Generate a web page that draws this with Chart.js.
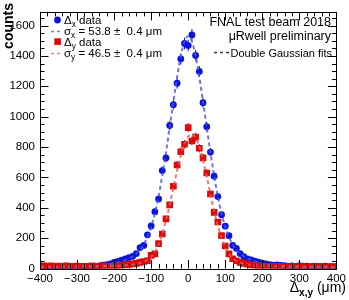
<!DOCTYPE html>
<html>
<head>
<meta charset="UTF-8">
<title>uRwell residuals</title>
<script src="https://cdn.jsdelivr.net/npm/chart.js@4.4.1/dist/chart.umd.min.js"></script>
<style>
  html, body { margin: 0; padding: 0; background: #fff; }
</style>
</head>
<body>
<canvas id="myChart" width="349" height="300"></canvas>
<script>
// bin centres (um), 10 um bins
var binCenters = [
  -400, -390, -380, -370, -360, -350, -340, -330, -320, -310,
  -300, -290, -280, -270, -260, -250, -240, -230, -220, -210,
  -200, -190, -180, -170, -160, -150, -140, -130, -120, -110,
  -100,  -90,  -80,  -70,  -60,  -50,  -40,  -30,  -20,  -10,
     0,   10,   20,   30,   40,   50,   60,   70,   80,   90,
   100,  110,  120,  130,  140,  150,  160,  170,  180,  190,
   200,  210,  220,  230,  240,  250,  260,  270,  280,  290,
   300,  310,  320,  330,  340,  350,  360,  370,  380,  390,
   400
];

// delta x counts
var dxCounts = [
  4, 3, 2, 4, 3, 5, 4, 6, 5, 7,
  6, 8, 9, 8, 11, 13, 17, 22, 26, 31,
  40, 47, 55, 64, 72, 80, 98, 138, 152, 222,
  280, 374, 458, 645, 728, 942, 1079, 1220, 1380, 1482,
  1468, 1538, 1403, 1298, 1092, 934, 767, 608, 474, 354,
  279, 216, 152, 132, 98, 78, 64, 56, 48, 42,
  36, 30, 26, 22, 24, 20, 18, 16, 17, 14,
  18, 15, 16, 13, 15, 14, 12, 15, 13, 12,
  14
];

// delta y counts
var dyCounts = [
  16, 18, 14, 17, 15, 16, 13, 17, 15, 14,
  16, 13, 15, 14, 17, 15, 13, 18, 16, 14,
  17, 19, 22, 24, 27, 30, 34, 40, 46, 51,
  86, 96, 164, 227, 327, 419, 542, 682, 769, 818,
  928, 840, 865, 792, 729, 629, 491, 370, 306, 217,
  148, 96, 64, 51, 40, 34, 28, 24, 20, 18,
  16, 15, 14, 12, 14, 11, 13, 12, 10, 12,
  11, 13, 10, 12, 11, 9, 12, 10, 11, 9,
  10
];

// double gaussian fit curves
var dxFit = [
  3, 3, 3, 4, 4, 4, 5, 5, 6, 6,
  7, 8, 9, 10, 12, 14, 16, 19, 23, 28,
  33, 40, 47, 56, 67, 80, 98, 122, 158, 208,
  275, 362, 475, 612, 765, 930, 1098, 1262, 1400, 1495,
  1530, 1495, 1400, 1262, 1098, 930, 765, 612, 475, 362,
  275, 208, 158, 122, 98, 80, 67, 56, 47, 40,
  33, 28, 23, 19, 16, 14, 12, 10, 9, 8,
  7, 6, 6, 5, 5, 4, 4, 4, 3, 3,
  3
];

var dyFit = [
  11, 11, 11, 12, 12, 12, 12, 13, 13, 13,
  13, 14, 14, 14, 14, 15, 15, 16, 16, 17,
  17, 18, 19, 21, 23, 26, 30, 36, 44, 57,
  77, 108, 158, 228, 318, 420, 532, 645, 745, 822,
  868, 885, 862, 805, 712, 605, 488, 378, 283, 205,
  143, 98, 68, 50, 39, 32, 27, 24, 21, 19,
  18, 17, 16, 16, 15, 15, 14, 14, 13, 13,
  13, 12, 12, 12, 12, 11, 11, 11, 11, 10,
  10
];

var xMin = -400, xMax = 400, yMin = 0, yMax = 1690;

var BLUE = '#0a14dc';
var RED = '#dc0a0a';
var BLUE_FIT = 'rgba(70, 85, 230, 0.8)';
var RED_FIT = 'rgba(225, 90, 90, 0.8)';
var FONT = '"Liberation Sans", Arial, Helvetica, sans-serif';

function pts(ys) {
  return binCenters.map(function (x, i) { return { x: x, y: ys[i] }; });
}

function fontFor(kind, size) {
  if (kind === 'sub') return (size * 0.72) + 'px ' + FONT;
  if (kind === 'subb') return 'bold ' + (size * 0.72) + 'px ' + FONT;
  if (kind === 'b') return 'bold ' + size + 'px ' + FONT;
  return size + 'px ' + FONT;
}

// draws text made of pieces, some of them subscripts
function richText(ctx, parts, x, y, size, align) {
  var widths = parts.map(function (p) {
    ctx.font = fontFor(p[1], size);
    return ctx.measureText(p[0]).width;
  });
  var total = widths.reduce(function (a, b) { return a + b; }, 0);
  var cx = align === 'right' ? x - total : x;
  ctx.textAlign = 'left';
  ctx.textBaseline = 'alphabetic';
  parts.forEach(function (p, i) {
    ctx.font = fontFor(p[1], size);
    var dy = p[1].indexOf('sub') === 0 ? size * 0.28 : 0;
    ctx.fillText(p[0], cx, y + dy);
    cx += widths[i];
  });
}

var errorBars = {
  id: 'errorBars',
  beforeDatasetDraw: function (chart, args) {
    var ds = chart.data.datasets[args.index];
    if (!ds.errorBars) return;
    var ctx = chart.ctx, ys = chart.scales.y;
    var area = chart.chartArea;
    ctx.save();
    ctx.beginPath();
    ctx.rect(area.left, area.top, area.right - area.left, area.bottom - area.top);
    ctx.clip();
    ctx.strokeStyle = ds.borderColor;
    ctx.lineWidth = 1;
    args.meta.data.forEach(function (el, i) {
      var v = ds.data[i].y;
      var e = Math.sqrt(v);
      ctx.beginPath();
      ctx.moveTo(el.x, ys.getPixelForValue(v - e));
      ctx.lineTo(el.x, ys.getPixelForValue(v + e));
      ctx.stroke();
    });
    ctx.restore();
  }
};

var decorations = {
  id: 'decorations',
  afterDraw: function (chart) {
    var ctx = chart.ctx, a = chart.chartArea;
    var xs = chart.scales.x, ys = chart.scales.y;
    ctx.save();
    ctx.strokeStyle = '#000';
    ctx.lineWidth = 1;
    ctx.strokeRect(Math.round(a.left) + 0.5, Math.round(a.top) + 0.5,
      Math.round(a.right - a.left), Math.round(a.bottom - a.top));

    // ticks pointing into the frame, on all four sides
    ctx.beginPath();
    var v, p, len;
    for (v = xMin; v <= xMax; v += 20) {
      p = Math.round(xs.getPixelForValue(v)) + 0.5;
      len = v % 100 === 0 ? 8.5 : 4.5;
      ctx.moveTo(p, a.bottom); ctx.lineTo(p, a.bottom - len);
      ctx.moveTo(p, a.top); ctx.lineTo(p, a.top + len);
    }
    for (v = yMin; v <= yMax; v += 50) {
      p = Math.round(ys.getPixelForValue(v)) + 0.5;
      len = v % 200 === 0 ? 8.5 : 4.5;
      ctx.moveTo(a.left, p); ctx.lineTo(a.left + len, p);
      ctx.moveTo(a.right, p); ctx.lineTo(a.right - len, p);
    }
    ctx.stroke();

    ctx.fillStyle = '#000';
    // axis titles
    richText(ctx, [['Δ', ''], ['x,y', 'subb'], [' (μm)', '']], 346, 292, 14, 'right');
    ctx.save();
    ctx.translate(13, 3);
    ctx.rotate(-Math.PI / 2);
    ctx.font = fontFor('b', 14);
    ctx.textAlign = 'right';
    ctx.textBaseline = 'alphabetic';
    ctx.fillText('counts', 0, 0);
    ctx.restore();

    // legend, top left
    ctx.fillStyle = BLUE;
    ctx.beginPath();
    ctx.arc(57.5, 20, 3.4, 0, Math.PI * 2);
    ctx.fill();
    ctx.fillStyle = RED;
    ctx.fillRect(54.3, 38.3, 6.6, 6.6);
    ctx.lineWidth = 1.6;
    ctx.setLineDash([3, 3]);
    ctx.strokeStyle = BLUE_FIT;
    ctx.beginPath(); ctx.moveTo(51, 31.5); ctx.lineTo(63, 31.5); ctx.stroke();
    ctx.strokeStyle = RED_FIT;
    ctx.beginPath(); ctx.moveTo(51, 53.5); ctx.lineTo(63, 53.5); ctx.stroke();
    ctx.strokeStyle = '#333';
    ctx.lineWidth = 1.3;
    ctx.beginPath(); ctx.moveTo(214, 52.5); ctx.lineTo(229, 52.5); ctx.stroke();
    ctx.setLineDash([]);

    ctx.fillStyle = '#000';
    richText(ctx, [['Δ', ''], ['x', 'sub'], [' data', '']], 64, 23.5, 11.5, 'left');
    richText(ctx, [['σ', ''], ['x', 'sub'], [' = 53.8 ±  0.4 μm', '']], 64, 34.5, 11.5, 'left');
    richText(ctx, [['Δ', ''], ['y', 'sub'], [' data', '']], 64, 46, 11.5, 'left');
    richText(ctx, [['σ', ''], ['y', 'sub'], [' = 46.5 ±  0.4 μm', '']], 64, 56.5, 11.5, 'left');

    // top right notes
    richText(ctx, [['FNAL test beam 2018', '']], 331, 26, 12.5, 'right');
    richText(ctx, [['μRwell preliminary', '']], 331, 40, 12.5, 'right');
    richText(ctx, [['Double Gaussian fits', '']], 332, 56.5, 11, 'right');
    ctx.restore();
  }
};

var tickFont = { family: FONT, size: 11.5 };

new Chart(document.getElementById('myChart'), {
  type: 'scatter',
  data: {
    datasets: [
      {
        label: 'dy fit', type: 'line', data: pts(dyFit),
        borderColor: RED_FIT, borderWidth: 2, borderDash: [4, 3],
        pointRadius: 0, cubicInterpolationMode: 'monotone', fill: false
      },
      {
        label: 'dx fit', type: 'line', data: pts(dxFit),
        borderColor: BLUE_FIT, borderWidth: 2, borderDash: [4, 3],
        pointRadius: 0, cubicInterpolationMode: 'monotone', fill: false
      },
      {
        label: 'dy data', data: pts(dyCounts), errorBars: true,
        pointStyle: 'rect', pointRadius: 4.7, borderWidth: 0,
        backgroundColor: RED, borderColor: RED
      },
      {
        label: 'dx data', data: pts(dxCounts), errorBars: true,
        pointStyle: 'circle', pointRadius: 3.4, borderWidth: 0,
        backgroundColor: BLUE, borderColor: BLUE
      }
    ]
  },
  options: {
    responsive: false,
    animation: false,
    layout: { padding: { left: 0, right: 9, top: 4, bottom: 0 } },
    plugins: { legend: { display: false }, tooltip: { enabled: false } },
    scales: {
      x: {
        type: 'linear', min: xMin, max: xMax,
        grid: { display: false, drawTicks: false },
        border: { display: false },
        ticks: {
          stepSize: 100, autoSkip: false, maxRotation: 0, padding: 3,
          color: '#000', font: tickFont,
          callback: function (v) { return String(v).replace('-', '\u2212'); }
        },
        afterFit: function (s) { s.height = 31.5; }
      },
      y: {
        min: yMin, max: yMax,
        grid: { display: false, drawTicks: false },
        border: { display: false },
        ticks: {
          stepSize: 200, includeBounds: false, padding: 5,
          color: '#000', font: tickFont,
          callback: function (v) { return String(v); }
        },
        afterFit: function (s) { s.width = 40; }
      }
    }
  },
  plugins: [errorBars, decorations]
});
</script>
</body>
</html>
